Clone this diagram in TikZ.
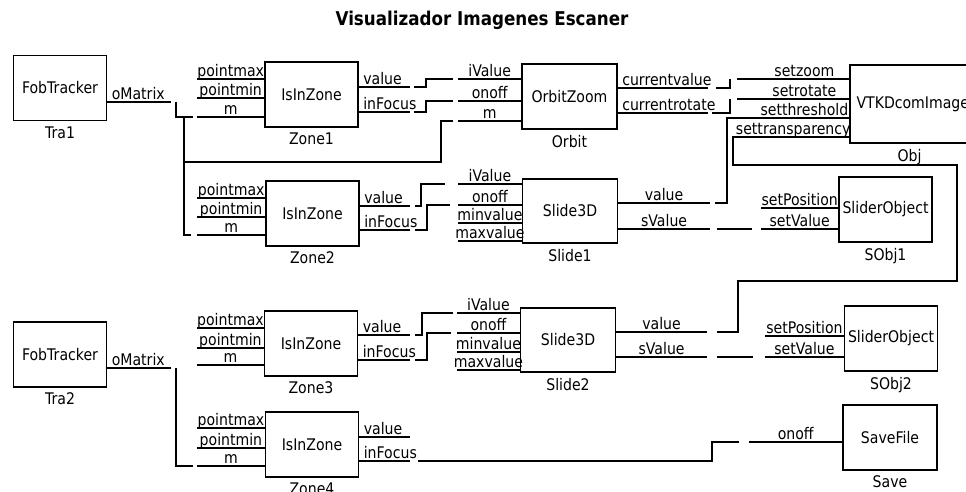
\documentclass[tikz,border=0pt]{standalone}
\usepackage{fontspec}
\setmainfont{DejaVu Sans}[FakeStretch=0.88]
\usetikzlibrary{calc}

\begin{document}
\begin{tikzpicture}[
  x=1pt, y=-1pt,
  font=\fontsize{16}{19}\selectfont,
  block/.style={
    draw,
    line width=1.3pt,
    minimum width=93pt,
    minimum height=65pt,
    inner sep=0pt
  },
  tag/.style={
    anchor=north,
    inner sep=0pt,
    yshift=-5pt
  },
  wire/.style={
    line width=1.3pt
  },
  pin/.style={
    midway,
    anchor=base,
    inner sep=0pt,
    yshift=3pt
  },
  pout/.style={
    pos=0,
    anchor=base west,
    inner sep=0pt,
    xshift=4pt,
    yshift=3pt
  }
]

\useasboundingbox (0,0) rectangle (966,491);
\clip (0,0) rectangle (966,491);
\fill[white] (0,0) rectangle (966,491);

\node[font=\bfseries\fontsize{19}{22}\selectfont] (title) at (482,20)
  {Visualizador Imagenes Escaner};

% blocks
\node[block] (tra1) at (60,88) {FobTracker};
\node[block] (tra2) at (60,354.5) {FobTracker};
\node[block] (zone1) at (311.5,94.5) {IsInZone};
\node[block] (zone2) at (312.5,213.5) {IsInZone};
\node[block] (zone3) at (311,343.5) {IsInZone};
\node[block] (zone4) at (312,444.5) {IsInZone};
\node[block, minimum width=95pt] (orbit) at (569.5,96.5) {OrbitZoom};
\node[block, minimum width=95pt, minimum height=64pt] (slide1) at (570,211) {Slide3D};
\node[block, minimum width=95pt, minimum height=64pt] (slide2) at (568,340) {Slide3D};
\node[block, minimum width=125pt, minimum height=78pt] (obj) at (912.5,104) {};
\node[anchor=west, inner sep=0pt] (objtext) at ([xshift=7pt]obj.west) {VTKDcomImage};
\node[block] (sobj1) at (885.5,209.5) {SliderObject};
\node[block] (sobj2) at (891,338.5) {SliderObject};
\node[block, minimum width=94pt] (save) at (890,437.5) {SaveFile};

\node[tag] (tra1t) at (tra1.south) {Tra1};
\node[tag] (tra2t) at (tra2.south) {Tra2};
\node[tag] (zone1t) at (zone1.south) {Zone1};
\node[tag] (zone2t) at (zone2.south) {Zone2};
\node[tag] (zone3t) at (zone3.south) {Zone3};
\node[tag] (zone4t) at (zone4.south) {Zone4};
\node[tag] (orbitt) at (orbit.south) {Orbit};
\node[tag] (slide1t) at (slide1.south) {Slide1};
\node[tag] (slide2t) at (slide2.south) {Slide2};
\node[tag] (objt) at ([xshift=-3pt]obj.south) {Obj};
\node[tag] (sobj1t) at (sobj1.south) {SObj1};
\node[tag] (sobj2t) at (sobj2.south) {SObj2};
\node[tag] (savet) at (save.south) {Save};

% port ends
\coordinate (t1o) at (171,102);
\coordinate (t2o) at (171,368);
\coordinate (z1a) at (197,79);   \coordinate (z1b) at (197,98);   \coordinate (z1c) at (197,117);
\coordinate (z2a) at (197,198);  \coordinate (z2b) at (197,217);  \coordinate (z2c) at (197,235);
\coordinate (z3a) at (197,328);  \coordinate (z3b) at (197,348);  \coordinate (z3c) at (197,365);
\coordinate (z4a) at (197,428);  \coordinate (z4b) at (197,448);  \coordinate (z4c) at (197,466);
\coordinate (z1v) at (410,87);   \coordinate (z1f) at (410,112);
\coordinate (z2v) at (410,206);  \coordinate (z2f) at (410,230);
\coordinate (z3v) at (410,335);  \coordinate (z3f) at (410,360);
\coordinate (z4v) at (410,437);  \coordinate (z4f) at (410,461);
\coordinate (oi) at (458,79);    \coordinate (oo) at (458,101);   \coordinate (om) at (458,121);
\coordinate (ocv) at (708,88);   \coordinate (ocr) at (708,113);
\coordinate (s1i) at (458,184);  \coordinate (s1o) at (458,205);
\coordinate (s1n) at (458,223);  \coordinate (s1x) at (458,241);
\coordinate (s2i) at (457,313);  \coordinate (s2o) at (457,333);
\coordinate (s2n) at (457,352);  \coordinate (s2x) at (457,370);
\coordinate (s1v) at (710,203);  \coordinate (s1s) at (710,229);
\coordinate (s2v) at (707,332);  \coordinate (s2s) at (707,357);
\coordinate (vz) at (737,79);    \coordinate (vr) at (737,99);
\coordinate (vt) at (737,118);   \coordinate (vp) at (737,137);
\coordinate (sp1) at (761,208);  \coordinate (sv1) at (761,229);
\coordinate (sp2) at (765,336);  \coordinate (sv2) at (765,357);
\coordinate (svo) at (749,442);

% stubs
\draw[wire] (tra1.east |- t1o) -- (t1o) node[pout]{oMatrix};
\draw[wire] (tra2.east |- t2o) -- (t2o) node[pout]{oMatrix};

\draw[wire] (z1a) -- (z1a -| zone1.west) node[pin]{pointmax};
\draw[wire] (z1b) -- (z1b -| zone1.west) node[pin]{pointmin};
\draw[wire] (z1c) -- (z1c -| zone1.west) node[pin]{m};
\draw[wire] (z2a) -- (z2a -| zone2.west) node[pin]{pointmax};
\draw[wire] (z2b) -- (z2b -| zone2.west) node[pin]{pointmin};
\draw[wire] (z2c) -- (z2c -| zone2.west) node[pin]{m};
\draw[wire] (z3a) -- (z3a -| zone3.west) node[pin]{pointmax};
\draw[wire] (z3b) -- (z3b -| zone3.west) node[pin]{pointmin};
\draw[wire] (z3c) -- (z3c -| zone3.west) node[pin]{m};
\draw[wire] (z4a) -- (z4a -| zone4.west) node[pin]{pointmax};
\draw[wire] (z4b) -- (z4b -| zone4.west) node[pin]{pointmin};
\draw[wire] (z4c) -- (z4c -| zone4.west) node[pin]{m};

\draw[wire] (zone1.east |- z1v) -- (z1v) node[pout]{value};
\draw[wire] (zone1.east |- z1f) -- (z1f) node[pout]{inFocus};
\draw[wire] (zone2.east |- z2v) -- (z2v) node[pout]{value};
\draw[wire] (zone2.east |- z2f) -- (z2f) node[pout]{inFocus};
\draw[wire] (zone3.east |- z3v) -- (z3v) node[pout]{value};
\draw[wire] (zone3.east |- z3f) -- (z3f) node[pout]{inFocus};
\draw[wire] (zone4.east |- z4v) -- (z4v) node[pout]{value};
\draw[wire] (zone4.east |- z4f) -- (z4f) node[pout]{inFocus};

\draw[wire] (oi) -- (oi -| orbit.west) node[pin]{iValue};
\draw[wire] (oo) -- (oo -| orbit.west) node[pin]{onoff};
\draw[wire] (om) -- (om -| orbit.west) node[pin]{m};
\draw[wire] (orbit.east |- ocv) -- (ocv) node[pout]{currentvalue};
\draw[wire] (orbit.east |- ocr) -- (ocr) node[pout]{currentrotate};

\draw[wire] (s1i) -- (s1i -| slide1.west) node[pin]{iValue};
\draw[wire] (s1o) -- (s1o -| slide1.west) node[pin]{onoff};
\draw[wire] (s1n) -- (s1n -| slide1.west) node[pin]{minvalue};
\draw[wire] (s1x) -- (s1x -| slide1.west) node[pin]{maxvalue};
\draw[wire] (slide1.east |- s1v) -- (s1v) node[pin]{value};
\draw[wire] (slide1.east |- s1s) -- (s1s) node[pin]{sValue};

\draw[wire] (s2i) -- (s2i -| slide2.west) node[pin]{iValue};
\draw[wire] (s2o) -- (s2o -| slide2.west) node[pin]{onoff};
\draw[wire] (s2n) -- (s2n -| slide2.west) node[pin]{minvalue};
\draw[wire] (s2x) -- (s2x -| slide2.west) node[pin]{maxvalue};
\draw[wire] (slide2.east |- s2v) -- (s2v) node[pin]{value};
\draw[wire] (slide2.east |- s2s) -- (s2s) node[pin]{sValue};

\draw[wire] (vz) -- (vz -| obj.west) node[pin, pos=.6]{setzoom};
\draw[wire] (vr) -- (vr -| obj.west) node[pin, pos=.6]{setrotate};
\draw[wire] (vt) -- (vt -| obj.west) node[pin, pos=.6]{setthreshold};
\draw[wire] (vp) -- (vp -| obj.west) node[pin]{settransparency};

\draw[wire] (sp1) -- (sp1 -| sobj1.west) node[pin]{setPosition};
\draw[wire] (sv1) -- (sv1 -| sobj1.west) node[pin]{setValue};
\draw[wire] (sp2) -- (sp2 -| sobj2.west) node[pin]{setPosition};
\draw[wire] (sv2) -- (sv2 -| sobj2.west) node[pin]{setValue};
\draw[wire] (svo) -- (svo -| save.west) node[pin]{onoff};

% connectors
\coordinate (t1bus) at (184,117);
\draw[wire] ([xshift=5pt]t1o) |- ([xshift=-4pt]z1c);
\draw[wire] (t1bus) |- ([xshift=-6pt]z2c);
\draw[wire] ([yshift=-45pt]t1bus) -| ([xshift=-17pt]om) -- ([xshift=-5pt]om);
\draw[wire] ([xshift=5pt]t2o) |- ([xshift=-4pt]z4c);

\draw[wire] ([xshift=4pt]z1v) -- ++(12,0) |- ([xshift=-5pt]oi);
\draw[wire] ([xshift=4pt]z1f) -- ++(12,0) |- ([xshift=-5pt]oo);
\draw[wire] ([xshift=5pt]z2v) -- ++(6,0) |- ([xshift=-13pt]s1i);
\draw[wire] ([xshift=5pt]z2f) -- ++(12,0) |- ([xshift=-8pt]s1o);
\draw[wire] ([xshift=5pt]z3v) -- ++(7,0) |- ([xshift=-4pt]s2i);
\draw[wire] ([xshift=5pt]z3f) -- ++(12,0) |- ([xshift=-6pt]s2o);
\draw[wire] ([xshift=8pt]z4f) -| ([xshift=-37pt]svo) -- ([xshift=-10pt]svo);

\draw[wire] ([xshift=8pt]ocv) -| ([xshift=-7pt]vz);
\draw[wire] ([xshift=4pt]ocr) -| ([xshift=-7pt]vr);
\draw[wire] ([xshift=5pt]s1v) -| ([xshift=-10pt]vt) -- (vt);
\draw[wire] ([xshift=7pt]s1s) -- ([xshift=-9pt]sv1);

\coordinate (rise) at (738,281);
\coordinate (edge) at (957,165);
\draw[wire] ([xshift=10pt]s2v) -| (rise) -| (edge) -| ([xshift=-4pt]vp) -- (vp);
\draw[wire] ([xshift=10pt]s2s) -- ([xshift=-12pt]sv2);

\end{tikzpicture}
\end{document}
